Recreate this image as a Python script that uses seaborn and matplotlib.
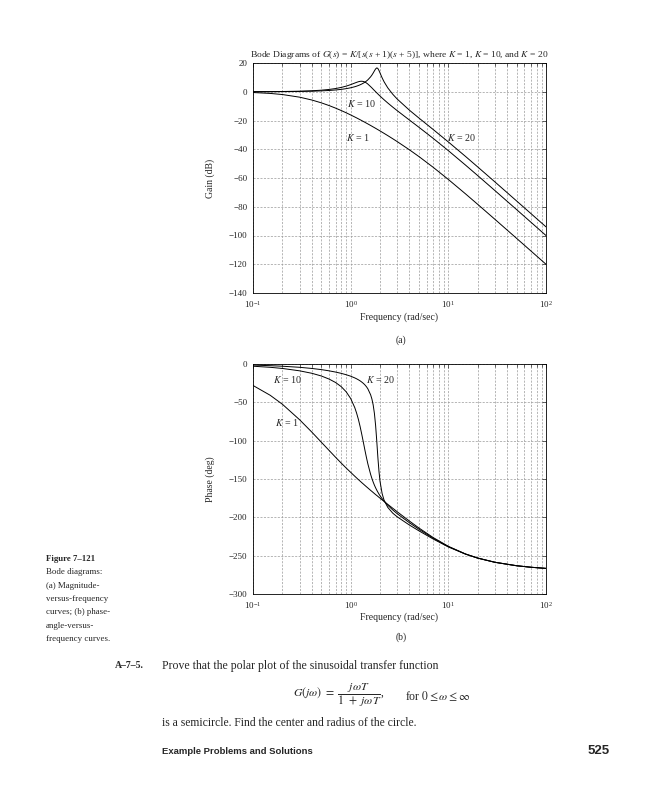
import numpy as np
import pandas as pd
import matplotlib
matplotlib.use("Agg")
import matplotlib.pyplot as plt
import matplotlib.ticker as mticker
import seaborn as sns

# ---------------- data ----------------
freq = [0.1, 0.15, 0.2, 0.3, 0.4, 0.5, 0.6, 0.7, 0.8, 0.9, 1.0, 1.1, 1.15, 1.2,
        1.25, 1.3, 1.35, 1.4, 1.45, 1.5, 1.6, 1.65, 1.7, 1.75, 1.8, 1.85, 1.86,
        1.9, 1.95, 2.0, 2.1, 2.2, 2.4, 2.7, 3, 4, 5, 7, 10, 15, 20, 30, 50, 70, 100]

gain_k1 = [-0.54, -1.16, -1.94, -3.77, -5.74, -7.70, -9.59, -11.38, -13.06, -14.64,
           -16.13, -17.53, -18.19, -18.84, -19.47, -20.09, -20.69, -21.27, -21.84,
           -22.39, -23.45, -23.97, -24.47, -24.96, -25.44, -25.91, -26.01, -26.37,
           -26.83, -27.27, -28.13, -28.96, -30.53, -32.71, -34.70, -40.40, -45.08,
           -52.57, -61.01, -71.04, -78.34, -88.75, -101.98, -110.73, -120.01]
gain_k10 = [0.04, 0.09, 0.17, 0.38, 0.68, 1.09, 1.60, 2.23, 3.00, 3.91, 4.95, 6.04,
            6.55, 6.97, 7.25, 7.32, 7.15, 6.74, 6.11, 5.34, 3.57, 2.68, 1.76, 0.88,
            0.04, -0.77, -0.93, -1.55, -2.30, -3.01, -4.35, -5.60, -7.83, -10.71,
            -13.18, -19.70, -24.71, -32.44, -40.97, -51.03, -58.33, -68.75, -81.98,
            -90.73, -100.01]
gain_k20 = [0.02, 0.05, 0.09, 0.21, 0.38, 0.61, 0.89, 1.24, 1.65, 2.16, 2.76, 3.48,
            3.89, 4.34, 4.84, 5.39, 6.00, 6.68, 7.44, 8.29, 10.37, 11.62, 13.02,
            14.52, 15.87, 16.58, 16.58, 16.14, 14.76, 13.01, 9.66, 6.89, 2.69, -1.77,
            -5.12, -12.85, -18.28, -26.28, -34.91, -45.00, -52.31, -62.73, -75.96,
            -84.71, -93.99]

phase_k1 = [-28.0, -40.8, -52.5, -72.7, -88.8, -101.9, -112.6, -121.6, -129.2, -135.7,
            -141.3, -146.3, -148.6, -150.8, -152.8, -154.8, -156.6, -158.4, -160.1,
            -161.7, -164.8, -166.2, -167.6, -169.0, -170.3, -171.5, -171.7, -172.7,
            -173.9, -175.0, -177.2, -179.3, -183.1, -188.2, -192.8, -204.9, -213.9,
            -226.4, -237.8, -247.8, -253.1, -258.6, -263.1, -265.1, -266.6]
phase_k10 = [-2.9, -4.3, -5.8, -8.9, -12.1, -15.6, -19.6, -24.1, -29.5, -36.3, -45.0,
             -56.7, -64.0, -72.3, -81.7, -91.9, -102.3, -112.5, -121.9, -130.3,
             -143.9, -149.3, -154.0, -158.0, -161.5, -164.5, -165.1, -167.2, -169.7,
             -171.9, -175.7, -178.9, -184.2, -190.4, -195.3, -207.1, -215.5, -227.3,
             -238.2, -247.9, -253.2, -258.6, -263.1, -265.1, -266.6]
phase_k20 = [-1.4, -2.2, -2.9, -4.3, -5.8, -7.3, -8.9, -10.5, -12.2, -14.0, -15.9,
             -18.1, -19.3, -20.6, -22.0, -23.6, -25.3, -27.3, -29.6, -32.4, -40.1,
             -45.7, -53.4, -64.4, -80.0, -100.4, -104.8, -122.2, -140.3, -153.4,
             -169.1, -177.8, -187.1, -194.6, -199.4, -210.1, -217.6, -228.3, -238.6,
             -248.0, -253.2, -258.7, -263.2, -265.1, -266.6]

k_labels = ["K = 1", "K = 10", "K = 20"]
gain_yticks = [20, 0, -20, -40, -60, -80, -100, -120, -140]
phase_yticks = [0, -50, -100, -150, -200, -250, -300]

# ---------------- style ----------------
sns.set_style("white")
plt.rcParams["font.family"] = ["Liberation Serif", "DejaVu Serif"]
plt.rcParams["mathtext.fontset"] = "stix"
plt.rcParams["axes.unicode_minus"] = True

n = len(freq)
df = pd.DataFrame({
    "w": freq * 3,
    "gain": gain_k1 + gain_k10 + gain_k20,
    "phase": phase_k1 + phase_k10 + phase_k20,
    "K": sum([[k] * n for k in k_labels], []),
})
pal = {k: "black" for k in k_labels}

fig = plt.figure(figsize=(6.53, 8.0), dpi=100)
W, H = 653.0, 800.0
ax1 = fig.add_axes([253 / W, 1 - 293 / H, 293 / W, 230 / H])
ax2 = fig.add_axes([253 / W, 1 - 594 / H, 293 / W, 230 / H])

grid_kw = dict(color="0.6", linestyle=(0, (3, 2)), linewidth=0.5)
for ax, col, yt in [(ax1, "gain", gain_yticks), (ax2, "phase", phase_yticks)]:
    sns.lineplot(data=df, x="w", y=col, hue="K", palette=pal, legend=False,
                 estimator=None, ax=ax, linewidth=0.7)
    ax.set_xscale("log")
    ax.set_xlim(0.1, 100)
    ax.set_ylim(min(yt), max(yt))
    ax.set_yticks(yt)
    ax.xaxis.set_minor_locator(mticker.LogLocator(base=10, subs=np.arange(2, 10)))
    ax.xaxis.set_minor_formatter(mticker.NullFormatter())
    ax.grid(True, which="major", axis="both", **grid_kw)
    ax.grid(True, which="minor", axis="x", **grid_kw)
    ax.tick_params(which="both", direction="in", top=True, right=True,
                   labelsize=6.5, pad=4, width=0.5)
    ax.tick_params(which="major", length=3)
    ax.tick_params(which="minor", length=2)
    for s in ax.spines.values():
        s.set_linewidth(0.6)
        s.set_color("black")
    ax.set_xlabel("Frequency (rad/sec)", fontsize=7)

ax1.xaxis.set_label_coords(0.5, -0.085)
ax2.xaxis.set_label_coords(0.5, -0.078)
ax1.set_ylabel("Gain (dB)", fontsize=7)
ax1.yaxis.set_label_coords(-0.13, 0.5)
ax2.set_ylabel("Phase (deg)", fontsize=7)
ax2.yaxis.set_label_coords(-0.13, 0.5)

ax1.set_title(r"Bode Diagrams of $G$($s$) = $K$/[$s$($s$ + 1)($s$ + 5)], where $K$ = 1, $K$ = 10, and $K$ = 20",
              fontsize=6.8, pad=4)

lab_kw = dict(fontsize=7.2, ha="center", va="center")
ax1.text(1.30, -8.0, r"$K$ = 10", **lab_kw)
ax1.text(1.19, -31.7, r"$K$ = 1", **lab_kw)
ax1.text(13.5, -31.7, r"$K$ = 20", **lab_kw)
ax2.text(0.225, -20.0, r"$K$ = 10", **lab_kw)
ax2.text(2.01, -20.0, r"$K$ = 20", **lab_kw)
ax2.text(0.223, -76.5, r"$K$ = 1", **lab_kw)

def fx(px):
    return px / W

def fy(py):
    return 1 - py / H

fig.text(fx(401), fy(340.5), "(a)", fontsize=7, ha="center", va="center")
fig.text(fx(401), fy(637), "(b)", fontsize=7, ha="center", va="center")

cap = ["Bode diagrams:", "(a) Magnitude-", "versus-frequency",
       "curves; (b) phase-", "angle-versus-", "frequency curves."]
fig.text(fx(46), fy(559), "Figure 7\u2013121", fontsize=6.3, fontweight="bold",
         ha="left", va="center")
for i, line in enumerate(cap):
    fig.text(fx(46), fy(572.5 + 13.3 * i), line, fontsize=6.4, ha="left", va="center")

fig.text(fx(115), fy(666), "A\u20137\u20135.", fontsize=7, fontweight="bold",
         ha="left", va="center")
fig.text(fx(162), fy(666), "Prove that the polar plot of the sinusoidal transfer function",
         fontsize=8.5, ha="left", va="center")
fig.text(fx(293), fy(695), r"$G(j\omega)\ =\ \dfrac{j\omega T}{1\ +\ j\omega T}$,",
         fontsize=8.5, ha="left", va="center")
fig.text(fx(405), fy(696), r"for $0 \leq \omega \leq \infty$", fontsize=8.5,
         ha="left", va="center")
fig.text(fx(162), fy(723), "is a semicircle. Find the center and radius of the circle.",
         fontsize=8.4, ha="left", va="center")
fig.text(fx(162), fy(752), "Example Problems and Solutions", fontsize=6.8,
         fontweight="bold", family=["Liberation Sans", "DejaVu Sans"],
         ha="left", va="center")
fig.text(fx(610), fy(751), "525", fontsize=9.5, fontweight="bold",
         family=["Liberation Sans", "DejaVu Sans"], ha="right", va="center")

fig.savefig("out.png", dpi=100)
